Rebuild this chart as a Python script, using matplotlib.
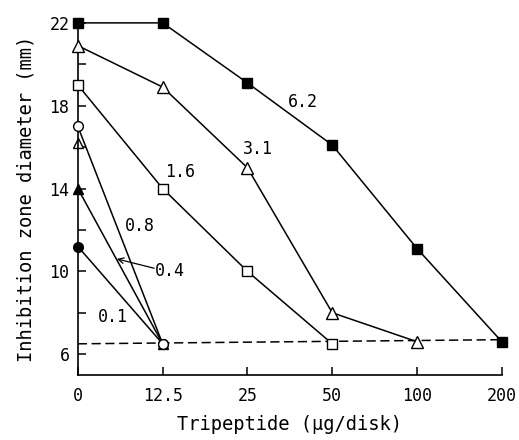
import matplotlib
matplotlib.use("Agg")
import matplotlib.pyplot as plt

# tripeptide doses (ug/disk), plotted at equal spacing
doses = ["0", "12.5", "25", "50", "100", "200"]

# inhibition zone diameter (mm) per concentration series
s62 = [22.0, 22.0, 19.1, 16.1, 11.1, 6.6]
s31 = [20.9, 18.9, 15.0, 8.0, 6.6]
s16 = [19.0, 14.0, 10.0, 6.5]
s08 = [17.0, 6.5]
s04 = [14.0, 6.5]
s01 = [11.2, 6.5]
extra_tri = [16.2]  # half-hidden open triangle at dose 0
baseline = [6.5, 6.7]  # dashed line, dose 0 -> 200

labels = ["6.2", "3.1", "1.6", "0.8", "0.4", "0.1"]
label_pos = [(2.65, 18.2), (2.12, 15.9), (1.20, 14.8), (0.73, 12.2), (1.08, 10.0), (0.41, 7.8)]

mono = "DejaVu Sans Mono"

fig = plt.figure(figsize=(5.19, 4.40), dpi=100)
ax = fig.add_axes([0.150, 0.148, 0.817, 0.800])

x = list(range(len(doses)))
lw = 1.1
ax.plot([x[0], x[-1]], baseline, color="black", lw=lw, ls=(0, (6, 3)), zorder=1)

ax.plot(x, s62, color="black", lw=lw, marker="s", ms=6.5, mfc="black", clip_on=False, zorder=3)
ax.plot(x[:5], s31, color="black", lw=lw, marker="^", ms=8, mfc="white", clip_on=False, zorder=3)
ax.plot(x[:4], s16, color="black", lw=lw, marker="s", ms=6.5, mfc="white", clip_on=False, zorder=3)
ax.plot(x[:2], s04, color="black", lw=lw, marker="^", ms=7, mfc="black", clip_on=False, zorder=3)
ax.plot(x[:2], s01, color="black", lw=lw, marker="o", ms=7, mfc="black", clip_on=False, zorder=3)
ax.plot(x[:1], extra_tri, color="black", lw=0, marker="^", ms=7, mfc="white", clip_on=False, zorder=2)
ax.plot(x[:2], s08, color="black", lw=lw, marker="o", ms=7, mfc="white", clip_on=False, zorder=4)

for lab, (lx, ly) in zip(labels, label_pos):
    ax.text(lx, ly, lab, ha="center", va="center", fontsize=12, family=mono)
ax.annotate("", xy=(0.46, 10.6), xytext=(0.90, 10.15),
            arrowprops=dict(arrowstyle="->", lw=0.9, color="black", shrinkA=0, shrinkB=0))

ax.set_xlim(0, 5)
ax.set_ylim(5, 22)
ax.set_xticks(x)
ax.set_xticklabels(doses, family=mono, fontsize=12)
ax.set_yticks([6, 10, 14, 18, 22])
ax.set_yticks([8, 12, 16, 20], minor=True)
ax.set_yticklabels(["6", "10", "14", "18", "22"], family=mono, fontsize=12)
ax.tick_params(axis="both", which="both", direction="in", width=1.1, length=6)
ax.tick_params(axis="x", which="major", pad=9)
ax.tick_params(axis="y", which="major", pad=6)

for side in ["top", "right"]:
    ax.spines[side].set_visible(False)
for side in ["left", "bottom"]:
    ax.spines[side].set_linewidth(1.2)

ax.set_xlabel("Tripeptide (\u03bcg/disk)", fontsize=13.5, family=mono, labelpad=7)
ax.set_ylabel("Inhibition zone diameter (mm)", fontsize=13.5, family=mono, labelpad=10)

fig.savefig("out.png", dpi=100)
